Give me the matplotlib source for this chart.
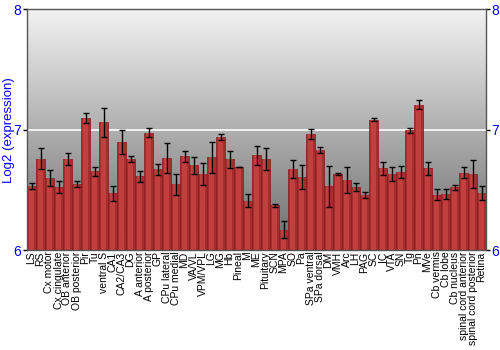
import matplotlib
matplotlib.use("Agg")
import matplotlib.pyplot as plt
import numpy as np
from matplotlib.colors import LinearSegmentedColormap

categories = ["LS", "RS", "Cx motor", "Cx cingulate", "OB anterior", "OB posterior", "Pir", "Tu",
              "ventral S", "CA1", "CA2/CA3", "DG", "A anterior", "A posterior", "GP", "CPu lateral",
              "CPu medial", "MD", "VA/VL", "VPM/VPL", "LG", "MG", "Hb", "Pineal", "M", "ME",
              "Pituitary", "SCN", "MPA", "SO", "Pa", "SPa ventral", "SPa dorsal", "DM", "VMH", "Arc",
              "LH", "PAG", "SC", "IC", "VTA", "SN", "Tg", "Pn", "MVe", "Cb vermis", "Cb lobe",
              "Cb nucleus", "spinal cord anterior", "spinal cord posterior", "Retina"]

values = [6.53, 6.76, 6.60, 6.52, 6.755, 6.547, 7.097, 6.653,
          7.06, 6.47, 6.894, 6.755, 6.614, 6.975, 6.672, 6.761,
          6.547, 6.78, 6.703, 6.633, 6.77, 6.939, 6.755, 6.69, 6.411, 6.786,
          6.755, 6.37, 6.167, 6.672, 6.603, 6.964, 6.83, 6.53, 6.633, 6.583,
          6.52, 6.458, 7.083, 6.68, 6.633, 6.647, 6.994, 7.208, 6.68, 6.458, 6.464,
          6.52, 6.642, 6.633, 6.475]

errors = [0.025, 0.09, 0.067, 0.05, 0.05, 0.025, 0.04, 0.04,
          0.117, 0.065, 0.1, 0.025, 0.045, 0.038, 0.045, 0.125,
          0.086, 0.045, 0.074, 0.093, 0.13, 0.025, 0.07, 0.003, 0.057, 0.082,
          0.092, 0.015, 0.07, 0.075, 0.1, 0.04, 0.026, 0.17, 0.006, 0.11,
          0.033, 0.022, 0.011, 0.055, 0.057, 0.05, 0.018, 0.035, 0.055, 0.045, 0.039,
          0.021, 0.047, 0.118, 0.058]

yticks = [6, 7, 8]

plt.rcParams['font.family'] = ['Liberation Sans', 'DejaVu Sans']

fig = plt.figure(figsize=(5, 3.5), dpi=100)
ax = fig.add_axes([0.054, 0.2857, 0.918, 0.6876])

n = len(categories)
x = np.arange(n)
ax.set_xlim(-0.5, n - 0.5)
ax.set_ylim(6, 8)

# background gradient (light at top, dark at bottom)
grad = np.linspace(0, 1, 256).reshape(-1, 1)
bg_cmap = LinearSegmentedColormap.from_list("bg", ["#f2f2f2", "#6c6c6c"])
ax.imshow(grad, cmap=bg_cmap, aspect="auto", extent=[-0.5, n - 0.5, 6, 8],
          origin="upper", zorder=0, interpolation="bilinear")

ax.axhline(7, color="white", lw=1.2, zorder=1)

base = 6
heights = [v - base for v in values]
ax.bar(x, heights, bottom=base, width=0.9, color="#a82828", edgecolor="#8a2020",
       linewidth=0.6, zorder=2, alpha=0.95)
ax.bar(x, heights, bottom=base, width=0.45, color="#c84444", linewidth=0, zorder=2.5, alpha=0.8)
ax.errorbar(x, values, yerr=errors, fmt="none", ecolor="black", elinewidth=1,
            capsize=2.5, capthick=1, zorder=3)

ax.set_xticks(x)
ax.set_xticklabels(categories, rotation=90, fontsize=7.5)
ax.tick_params(axis="x", length=0, pad=1)

ax.set_yticks(yticks)
ax.set_yticklabels([str(t) for t in yticks], color="blue", fontsize=10)
ax.tick_params(axis="y", length=3, width=1, color="black", pad=1, right=True, labelright=True)

ax.set_ylabel("Log2 (expression)", color="blue", fontsize=9.5)
ax.yaxis.set_label_coords(-0.027, 0.5)

for s in ax.spines.values():
    s.set_color("#555555")
    s.set_linewidth(1)

fig.savefig("out.png", dpi=100)
